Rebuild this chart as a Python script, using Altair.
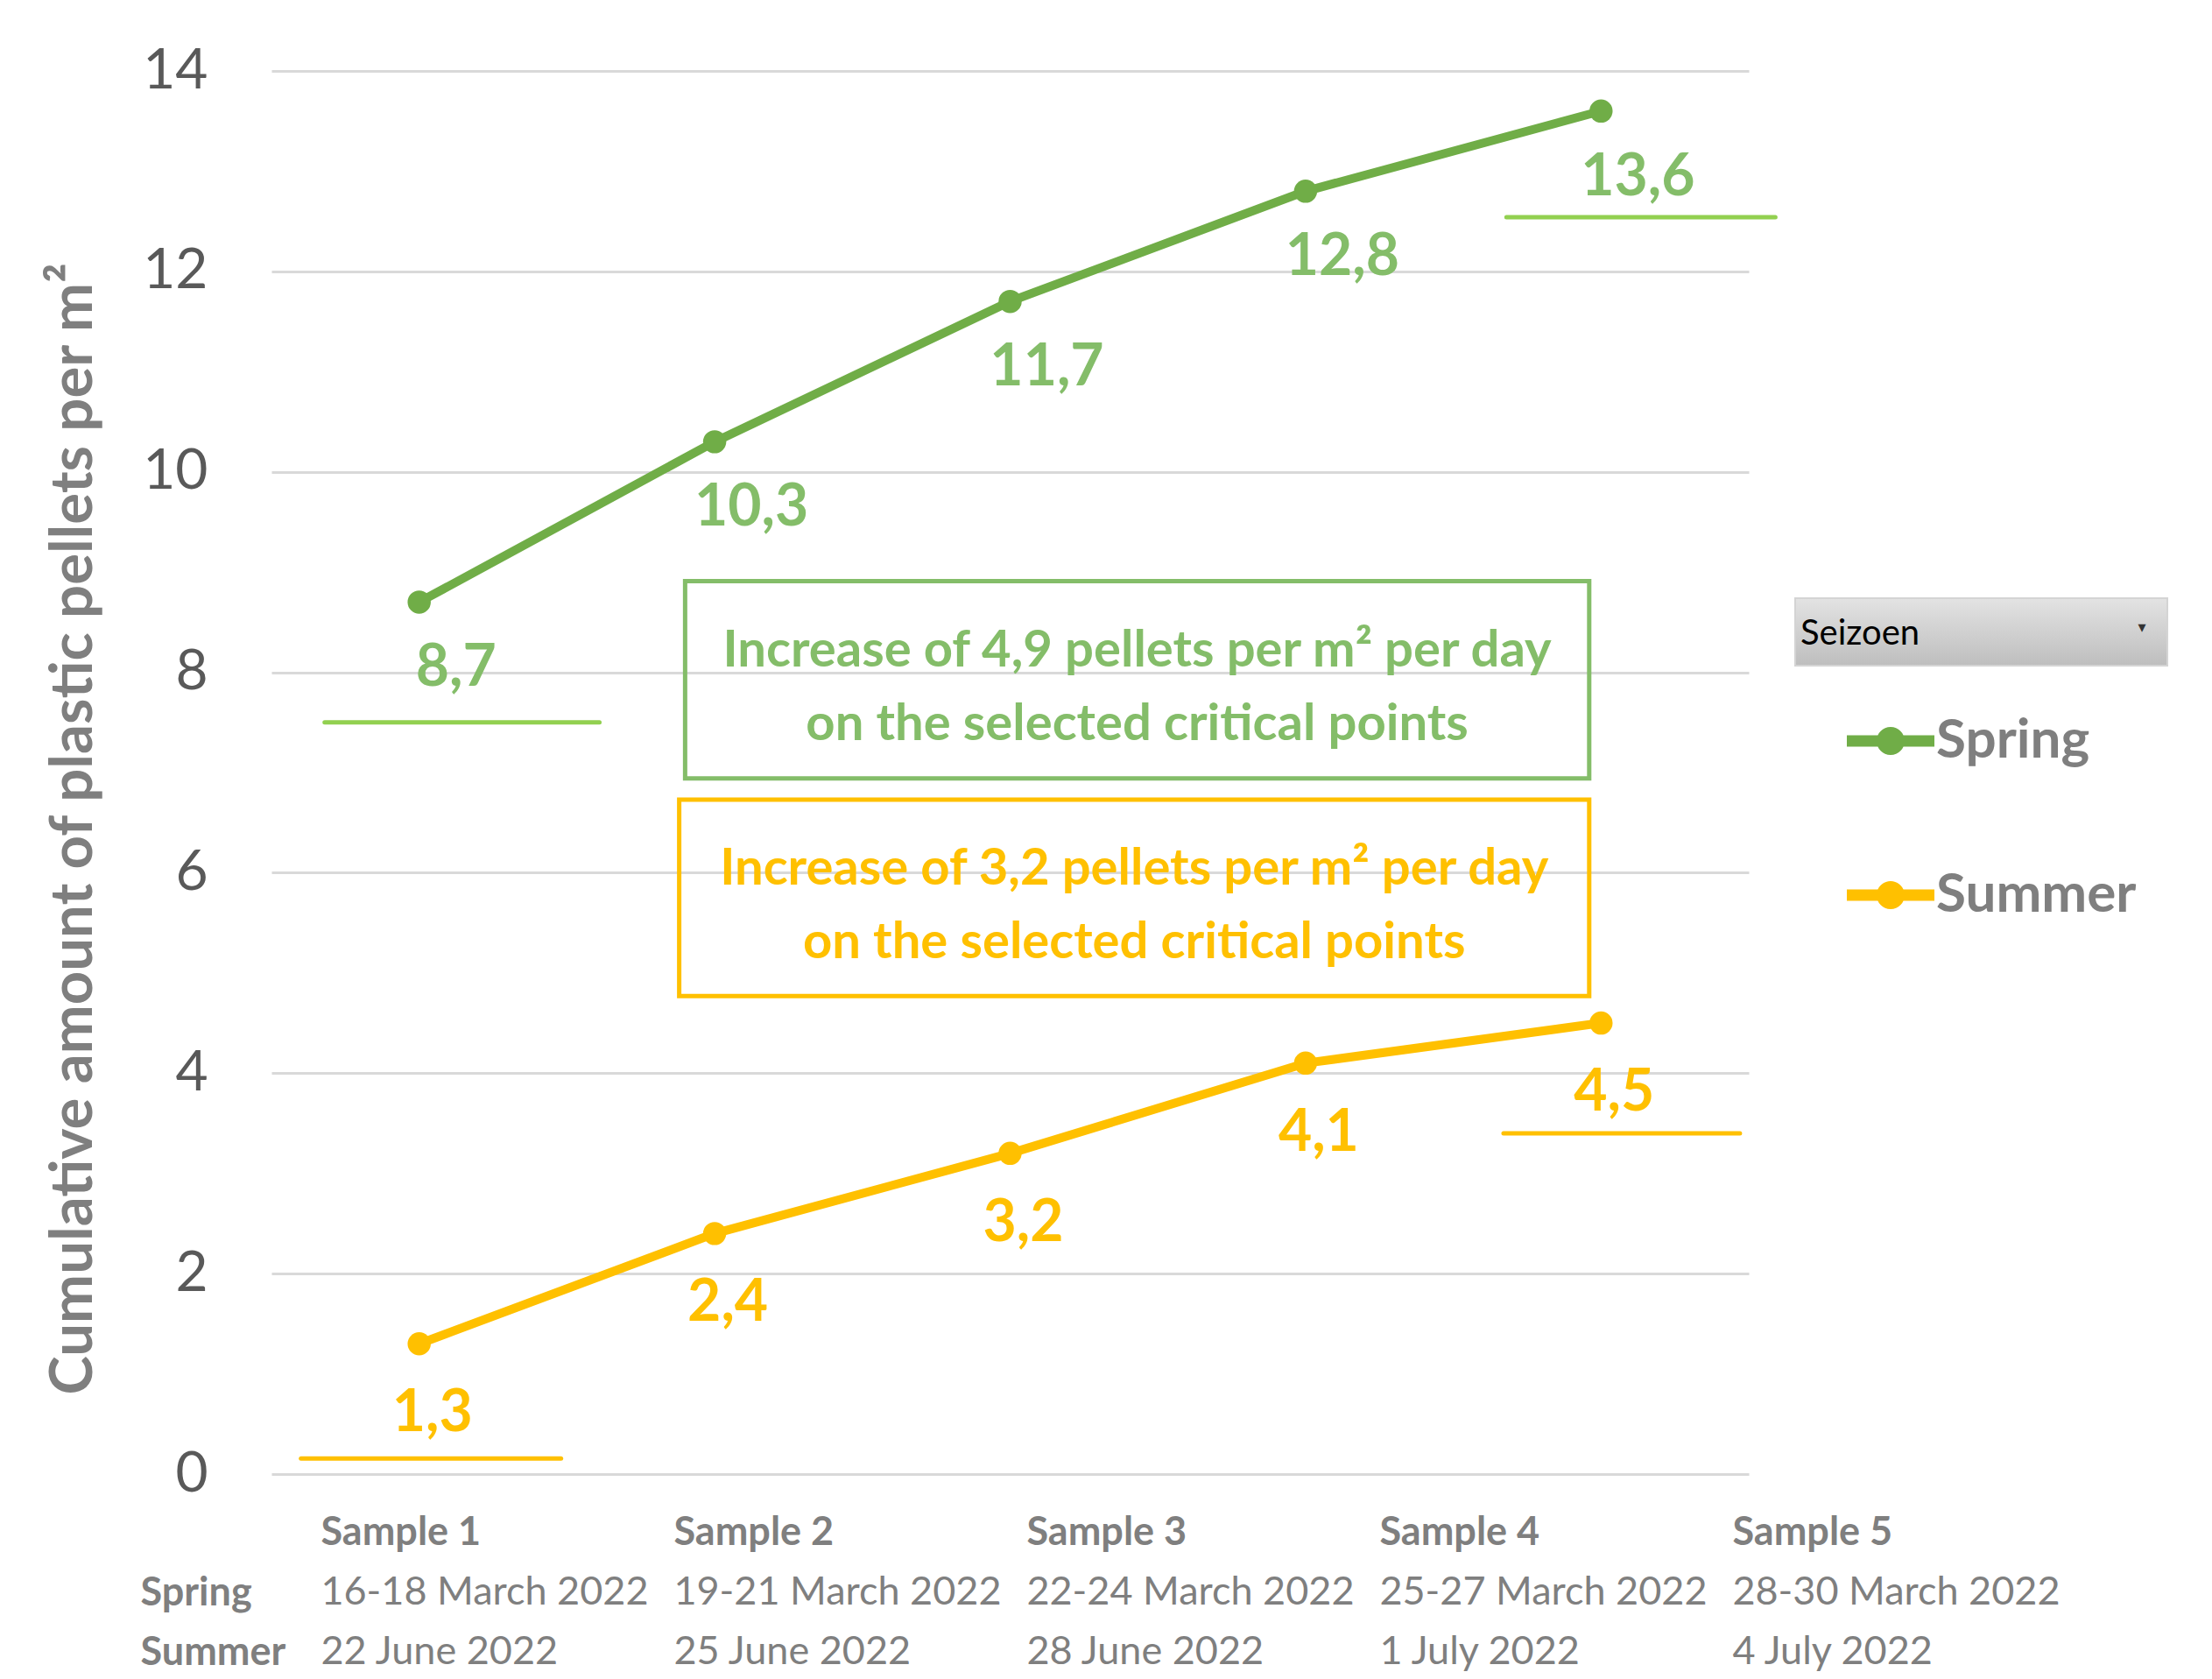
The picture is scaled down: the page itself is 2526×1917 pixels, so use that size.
import altair as alt
import pandas as pd

# ---- data ----
samples = ["Sample 1", "Sample 2", "Sample 3", "Sample 4", "Sample 5"]
spring_dates = ["16-18 March 2022", "19-21 March 2022", "22-24 March 2022",
                "25-27 March 2022", "28-30 March 2022"]
summer_dates = ["22 June 2022", "25 June 2022", "28 June 2022", "1 July 2022", "4 July 2022"]
spring_values = [8.7, 10.3, 11.7, 12.8, 13.6]
summer_values = [1.3, 2.4, 3.2, 4.1, 4.5]
series = ["Spring", "Summer"]
colors = ["#70AD47", "#FFC000"]
label_colors = ["#84BD69", "#FFC000"]

box_texts = ["Increase of 4,9 pellets per m² per day\non the selected critical points",
             "Increase of 3,2 pellets per m² per day\non the selected critical points"]
box_x1 = [1.90, 1.88]
box_x2 = [4.96, 4.96]
box_y1 = [6.94, 4.77]
box_y2 = [8.91, 6.73]

# stray underlines in the original figure
ul_series = ["Spring", "Spring", "Summer", "Summer"]
ul_x1 = [0.68, 4.68, 0.60, 4.67]
ul_x2 = [1.61, 5.59, 1.48, 5.47]
ul_y = [7.5, 12.54, 0.155, 3.4]

FONT = "Lato"
W, H = 1687, 1602

rows = []
for i, s in enumerate(samples):
    rows.append({"idx": i + 1, "sample": s, "season": "Spring", "value": spring_values[i],
                 "label": f"{spring_values[i]:.1f}".replace(".", ",")})
    rows.append({"idx": i + 1, "sample": s, "season": "Summer", "value": summer_values[i],
                 "label": f"{summer_values[i]:.1f}".replace(".", ",")})
df = pd.DataFrame(rows)

xs = alt.Scale(domain=[0.5, 5.5])
ys = alt.Scale(domain=[0, 14])
cs = alt.Scale(domain=series, range=colors)

legend_path = ("M-1,-0.13H1V0.13H-1Z "
               "M0.32,0A0.32,0.32,0,1,1,-0.32,0A0.32,0.32,0,1,1,0.32,0Z")
legend = alt.Legend(
    title=None, orient="none", legendX=1799, legendY=715,
    symbolType=legend_path, symbolSize=10000, symbolStrokeWidth=0, symbolOpacity=1,
    labelFont=FONT, labelFontWeight="bold", labelFontSize=62, labelColor="#7F7F7F",
    labelOffset=2, rowPadding=95, padding=0, labelLimit=0,
)

yaxis = alt.Axis(
    values=list(range(0, 15, 2)), format="d", grid=True, gridColor="#D9D9D9", gridWidth=3,
    domain=False, ticks=False, labelFont=FONT, labelFontSize=64, labelColor="#595959",
    labelPadding=73, title="Cumulative amount of plastic pellets per m²",
    titleFont=FONT, titleFontSize=67, titleFontWeight="bold", titleColor="#7F7F7F",
    titleX=-226, titleY=865, titleAngle=-90, titleAlign="center", titleBaseline="middle",
)

base = alt.Chart(df)

lines = base.mark_line(strokeWidth=10).encode(
    x=alt.X("idx:Q", scale=xs, axis=None),
    y=alt.Y("value:Q", scale=ys, axis=yaxis),
    color=alt.Color("season:N", scale=cs, legend=legend),
    detail="season:N",
)
points = base.mark_circle(size=700, opacity=1).encode(
    x=alt.X("idx:Q", scale=xs),
    y=alt.Y("value:Q", scale=ys),
    color=alt.Color("season:N", scale=cs, legend=legend),
)

extra = []
for k, s in enumerate(series):
    lc = label_colors[k]
    dx, dy = [(42, 76), (15, 80)][k]
    extra.append(
        base.transform_filter(alt.datum.season == s).mark_text(
            font=FONT, fontWeight="bold", fontSize=66, color=lc, dx=dx, dy=dy,
            align="center", baseline="middle",
        ).encode(x=alt.X("idx:Q", scale=xs), y=alt.Y("value:Q", scale=ys), text="label:N")
    )

boxes = []
for k, s in enumerate(series):
    bdf = pd.DataFrame({"x1": [box_x1[k]], "x2": [box_x2[k]], "y1": [box_y1[k]],
                        "y2": [box_y2[k]], "text": [box_texts[k]],
                        "xm": [(box_x1[k] + box_x2[k]) / 2], "ym": [(box_y1[k] + box_y2[k]) / 2]})
    boxes.append(alt.Chart(bdf).mark_rect(fill="white", fillOpacity=0, stroke=label_colors[k],
                                          strokeWidth=5).encode(
        x=alt.X("x1:Q", scale=xs), x2="x2:Q", y=alt.Y("y1:Q", scale=ys), y2="y2:Q"))
    boxes.append(alt.Chart(bdf).mark_text(
        font=FONT, fontWeight="bold", fontSize=58, lineBreak="\n", lineHeight=84,
        align="center", baseline="middle", dy=-32, color=label_colors[k]).encode(
        x=alt.X("xm:Q", scale=xs), y=alt.Y("ym:Q", scale=ys), text="text:N"))

ul_colors = {"Spring": "#92D050", "Summer": "#FFC000"}
ulines = []
for s in series:
    udf = pd.DataFrame({"x1": [a for a, t in zip(ul_x1, ul_series) if t == s],
                        "x2": [a for a, t in zip(ul_x2, ul_series) if t == s],
                        "y": [a for a, t in zip(ul_y, ul_series) if t == s]})
    ulines.append(alt.Chart(udf).mark_rule(strokeWidth=5, strokeCap="round",
                                           color=ul_colors[s]).encode(
        x=alt.X("x1:Q", scale=xs), x2="x2:Q", y=alt.Y("y:Q", scale=ys)))

# "Seizoen" dropdown box (slicer header)
one = pd.DataFrame({"t": ["Seizoen"]})
grad = alt.Gradient(gradient="linear", x1=0, x2=0, y1=0, y2=1,
                    stops=[alt.GradientStop(color="#E3E3E3", offset=0),
                           alt.GradientStop(color="#BEBEBE", offset=1)])
sbox = alt.Chart(one).mark_rect(fill=grad, stroke="#D4D4D4", strokeWidth=2).encode(
    x=alt.value(1740), x2=alt.value(2165), y=alt.value(602), y2=alt.value(679))
stext = alt.Chart(one).mark_text(font=FONT, fontSize=40, color="#000000", align="left",
                                 baseline="middle").encode(
    x=alt.value(1746), y=alt.value(643), text="t:N")
sarrow = alt.Chart(pd.DataFrame({"t": ["▾"]})).mark_text(
    font="DejaVu Sans", fontSize=18, color="#333333", align="center", baseline="middle"
).encode(x=alt.value(2136), y=alt.value(636), text="t:N")

top = alt.layer(lines, *ulines, *boxes, points, *extra, sbox, stext, sarrow
                ).properties(width=W, height=H)

# ---- table of sample labels below ----
trows = []
for i, s in enumerate(samples):
    trows.append({"idx": i + 1, "row": "", "text": s, "bold": 1})
    trows.append({"idx": i + 1, "row": "Spring", "text": spring_dates[i], "bold": 0})
    trows.append({"idx": i + 1, "row": "Summer", "text": summer_dates[i], "bold": 0})
tdf = pd.DataFrame(trows)

tx = alt.Scale(domain=[0.86, 5.86])
ty = alt.Scale(domain=["", "Spring", "Summer"], type="point", padding=0)
taxis = alt.Axis(title=None, domain=False, ticks=False, grid=False, labelAlign="left",
                 labelPadding=150, labelFont=FONT, labelFontWeight="bold",
                 labelFontSize=45, labelColor="#7F7F7F", labelBaseline="middle")
tbase = alt.Chart(tdf)
t_head = tbase.transform_filter(alt.datum.bold == 1).mark_text(
    font=FONT, fontWeight="bold", fontSize=45, color="#7F7F7F", align="left",
    baseline="middle").encode(
    x=alt.X("idx:Q", scale=tx, axis=None), y=alt.Y("row:N", scale=ty, axis=taxis),
    text="text:N")
t_body = tbase.transform_filter(alt.datum.bold == 0).mark_text(
    font=FONT, fontSize=45, color="#7F7F7F", align="left", baseline="middle").encode(
    x=alt.X("idx:Q", scale=tx, axis=None), y=alt.Y("row:N", scale=ty, axis=taxis),
    text="text:N")
table = alt.layer(t_head, t_body).properties(width=2015, height=136)

chart = alt.vconcat(top, table, spacing=13).properties(
    padding={"left": 42, "top": 41, "right": 5, "bottom": 0}
).configure(background="white").configure_view(stroke=None)

chart.save("out.html", embed_options={"renderer": "svg", "actions": False})
